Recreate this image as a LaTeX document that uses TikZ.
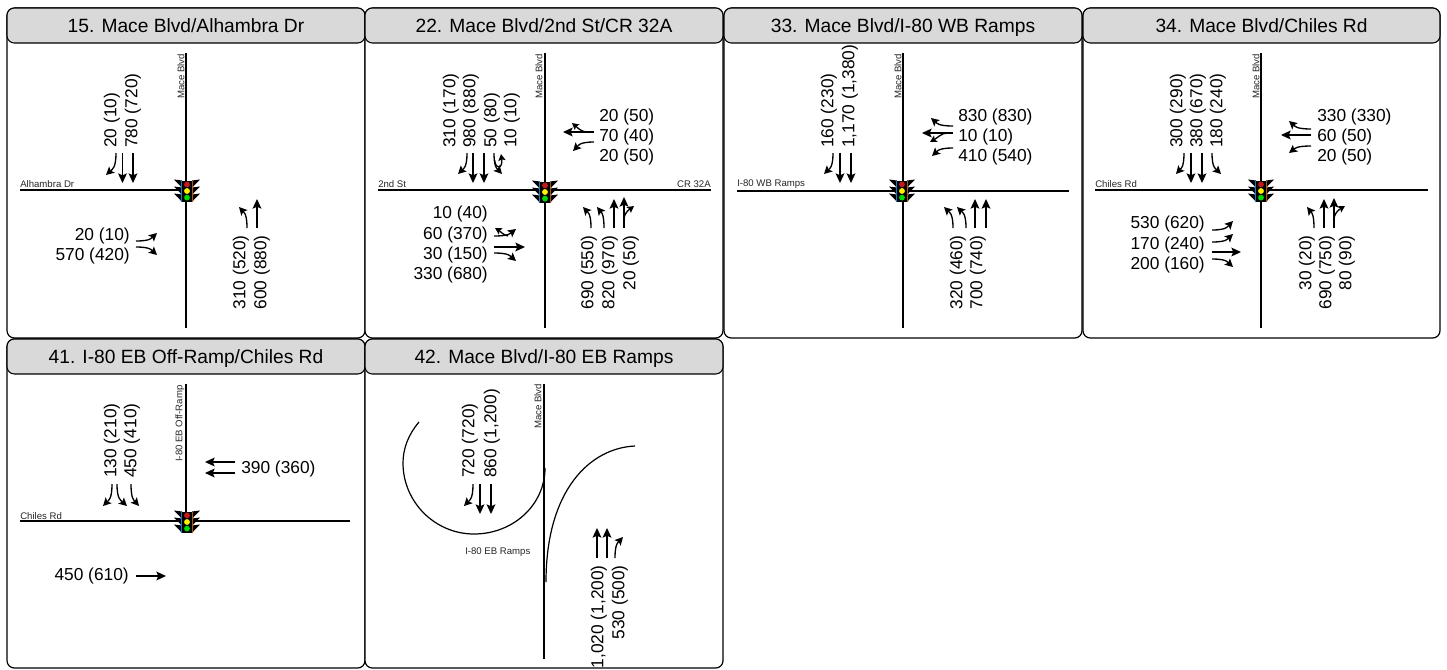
\documentclass[tikz,border=0pt]{standalone}
\usepackage{fontspec}
\setmainfont{Liberation Sans}
\usetikzlibrary{arrows.meta}
\newcounter{labn}
\tikzset{
  panelbox/.style={draw=black,line width=0.9pt,fill=white,rounded corners=5.5pt},
  headbox/.style={draw=black,line width=0.8pt,fill=black!15,rounded corners=5.5pt},
  headtext/.style={font=\fontsize{14.4}{16}\selectfont,inner sep=0pt,anchor=base},
  road/.style={line width=1.15pt,black},
  roadtext/.style={font=\fontsize{7.2}{8}\selectfont,inner sep=0pt,text=black!85},
  numtext/.style={font=\fontsize{13}{15}\selectfont,inner sep=0pt},
  flow/.style={line width=1pt,black,-{Stealth[length=7.2pt,width=6.6pt,inset=1.4pt]}},
  cflow/.style={line width=1pt,black,-{Stealth[length=6pt,width=6.2pt,inset=1.2pt]}},
  uflow/.style={line width=1pt,black,-{Stealth[length=5pt,width=5.4pt,inset=1pt]}},
}
\newcommand\nS[3]{\stepcounter{labn}\node[numtext,rotate=90,anchor=west] (n\thelabn) at (#1,#2) {#3};}
\newcommand\nN[3]{\stepcounter{labn}\node[numtext,rotate=90,anchor=east] (n\thelabn) at (#1,#2) {#3};}
\newcommand\nW[3]{\stepcounter{labn}\node[numtext,anchor=west] (n\thelabn) at (#1,#2) {#3};}
\newcommand\nE[3]{\stepcounter{labn}\node[numtext,anchor=east] (n\thelabn) at (#1,#2) {#3};}
\newcommand\rV[3]{\stepcounter{labn}\node[roadtext,rotate=90,anchor=west] (n\thelabn) at (#1,#2) {#3};}
\newcommand\rL[3]{\stepcounter{labn}\node[roadtext,anchor=west] (n\thelabn) at (#1,#2) {#3};}
\newcommand\rR[3]{\stepcounter{labn}\node[roadtext,anchor=east] (n\thelabn) at (#1,#2) {#3};}
\newcommand\str[4]{\draw[flow] (#1,#2) -- (#3,#4);}
\newcommand\cv[4]{\draw[cflow] (#1,#2) .. controls ({#1},{#2+0.7*(#4-#2)}) and ({#1+0.4*(#3-#1)},{#2+0.75*(#4-#2)}) .. (#3,#4);}
\newcommand\ch[4]{\draw[cflow] (#1,#2) .. controls ({#1+0.7*(#3-#1)},{#2}) and ({#1+0.75*(#3-#1)},{#2+0.4*(#4-#2)}) .. (#3,#4);}
\newcommand\panel[6]{%
  \draw[panelbox] (#1,#2) rectangle (#3,#4);
  \draw[headbox] (#1,#2) rectangle (#3,#5);
  \node[headtext] (title#6) at ({(#1+#3)/2},{#2+24}) {\csname ptitle#6\endcsname};
}
\newcommand\signal[2]{%
  \begin{scope}[shift={(#1,#2)}]
    \foreach \dy in {-7,0,7}{
      \fill[black] (-5,\dy-3.5) -- (-13,\dy-4.5) -- (-5,\dy+3.8) -- cycle;
      \fill[black] (5,\dy-3.5) -- (13,\dy-4.5) -- (5,\dy+3.8) -- cycle;
    }
    \fill[black] (-5.5,-10.5) rectangle (5.5,10.5);
    \draw[cyan!60!blue,line width=0.45pt] (-5.5,-10.5) -- (-5.5,10.5);
    \draw[orange!70!black,line width=0.45pt] (5.5,-10.5) -- (5.5,10.5);
    \fill[red!75!black!90!white] (0,-6.6) circle (2.9);
    \fill[yellow] (0,0) circle (2.9);
    \fill[green!85!black] (0,6.6) circle (2.9);
  \end{scope}
}
\newcommand\ptitleA{15. Mace Blvd/Alhambra Dr}
\newcommand\ptitleB{22. Mace Blvd/2nd St/CR 32A}
\newcommand\ptitleC{33. Mace Blvd/I-80 WB Ramps}
\newcommand\ptitleD{34. Mace Blvd/Chiles Rd}
\newcommand\ptitleE{41. I-80 EB Off-Ramp/Chiles Rd}
\newcommand\ptitleF{42. Mace Blvd/I-80 EB Ramps}
\begin{document}
\begin{tikzpicture}[x=0.75pt,y=-0.75pt]
\useasboundingbox (0,0) rectangle (1447,669);
\fill[white] (0,0) rectangle (1447,669);
\panel{7}{8}{365}{338}{43}{A}
\panel{365}{8}{723}{338}{43}{B}
\panel{724}{8}{1082}{338}{43}{C}
\panel{1083}{8}{1440}{338}{43}{D}
\panel{7}{339}{365}{668}{374}{E}
\panel{365}{339}{723}{668}{374}{F}

% ---- 15
\draw[road] (186,53) -- (186,328);
\draw[road] (20,190) -- (186,190);
\signal{187}{191}
\rV{181}{99}{Mace Blvd}
\rL{20}{184}{Alhambra Dr}
\nS{112}{148}{20 (10)}
\nS{133}{148}{780 (720)}
\nN{241}{235}{310 (520)}
\nN{262}{235}{600 (880)}
\nE{130}{236}{20 (10)}
\nE{130}{256}{570 (420)}
\cv{116}{153}{106}{175}
\str{122.5}{153}{122.5}{183}
\str{133}{153}{133}{183}
\cv{247}{228}{239}{207}
\str{257}{228}{257}{199}
\ch{136}{241}{157}{233}
\ch{136}{247}{157}{255}

% ---- 22
\draw[road] (545,53) -- (545,328);
\draw[road] (378,190) -- (711,190);
\signal{545}{192}
\rV{539}{99}{Mace Blvd}
\rL{378}{184}{2nd St}
\rR{711}{184}{CR 32A}
\nS{451}{148}{310 (170)}
\nS{471}{148}{980 (880)}
\nS{492}{148}{50 (80)}
\nS{512}{148}{10 (10)}
\nW{599}{117}{20 (50)}
\nW{599}{137}{70 (40)}
\nW{599}{157}{20 (50)}
\nN{589}{235}{690 (550)}
\nN{610}{235}{820 (970)}
\nN{631}{235}{20 (50)}
\nE{488}{214}{10 (40)}
\nE{488}{235}{60 (370)}
\nE{488}{255}{30 (150)}
\nE{488}{275}{330 (680)}
\cv{467}{153}{458}{174}
\str{473}{153}{473}{183}
\str{484}{153}{484}{183}
\cv{494}{153}{502}{174}
\draw[uflow] (494.5,160) .. controls (496,171) and (503,168) .. (501,154);
\str{594}{132}{563}{132}
\draw[uflow] (588,132) .. controls (581,132) and (578,128) .. (572,123);
\ch{594}{142}{573}{151}
\cv{591}{228}{583}{207}
\cv{604}{228}{597}{207}
\str{614}{228}{614}{199}
\str{624}{228}{624}{197}
\draw[uflow] (624,218) .. controls (625,212) and (630,209) .. (634,206);
\ch{494}{236}{516}{229}
\draw[uflow] (508,236) .. controls (503,235) and (500,231) .. (495,228);
\str{494}{247}{525}{247}
\ch{494}{253}{516}{261}

% ---- 33
\draw[road] (903,53) -- (903,328);
\draw[road] (737,191) -- (1069,191);
\signal{902}{191}
\rV{898}{99}{Mace Blvd}
\rL{737}{184}{I-80 WB Ramps}
\nS{829}{148}{160 (230)}
\nS{850}{148}{1,170 (1,380)}
\nW{958}{117}{830 (830)}
\nW{958}{137}{10 (10)}
\nW{958}{157}{410 (540)}
\nN{958}{235}{320 (460)}
\nN{978}{235}{700 (740)}
\cv{833}{153}{824}{174}
\str{840}{153}{840}{183}
\str{851}{153}{851}{183}
\ch{953}{126}{931}{118}
\str{953}{133}{922}{133}
\draw[uflow] (947,133) .. controls (942,133) and (937,138) .. (930,142);
\ch{953}{148}{932}{156}
\cv{953}{228}{944}{207}
\cv{966}{228}{957}{207}
\str{975}{228}{975}{199}
\str{986}{228}{986}{199}

% ---- 34
\draw[road] (1261,53) -- (1261,328);
\draw[road] (1095,190) -- (1428,190);
\signal{1261}{191}
\rV{1256}{99}{Mace Blvd}
\rL{1095}{184}{Chiles Rd}
\nS{1178}{148}{300 (290)}
\nS{1198}{148}{380 (670)}
\nS{1218}{148}{180 (240)}
\nW{1317}{117}{330 (330)}
\nW{1317}{137}{60 (50)}
\nW{1317}{157}{20 (50)}
\nN{1307}{235}{30 (20)}
\nN{1327}{235}{690 (750)}
\nN{1347}{235}{80 (90)}
\nE{1205}{224}{530 (620)}
\nE{1205}{245}{170 (240)}
\nE{1205}{265}{200 (160)}
\cv{1184}{153}{1176}{174}
\str{1191}{153}{1191}{183}
\str{1202}{153}{1202}{183}
\cv{1212}{153}{1221}{174}
\ch{1311}{129}{1289}{121}
\str{1311}{135}{1281}{135}
\ch{1311}{146}{1289}{153}
\cv{1314}{228}{1307}{207}
\str{1324}{228}{1324}{199}
\str{1334}{228}{1334}{198}
\draw[uflow] (1334,218) .. controls (1335,212) and (1340,209) .. (1345,206);
\ch{1212}{230}{1233}{221}
\ch{1212}{242}{1233}{234}
\str{1212}{252}{1241}{252}
\ch{1212}{259}{1233}{267}

% ---- 41
\draw[road] (186,384) -- (186,521);
\draw[road] (20,521) -- (350,521);
\signal{187}{522}
\rV{180}{462}{I-80 EB Off-Ramp}
\rL{20}{516}{Chiles Rd}
\nS{112}{478}{130 (210)}
\nS{132}{478}{450 (410)}
\nW{241}{469}{390 (360)}
\nE{129}{576}{450 (610)}
\cv{112}{484}{103}{506}
\cv{117}{484}{127}{506}
\cv{131}{484}{139}{506}
\str{235}{462}{205}{462}
\str{235}{473}{205}{473}
\str{136}{576}{166}{576}

% ---- 42
\draw[road] (544,384) -- (544,659);
\draw[line width=0.9pt] (419,422) .. controls (408,435) and (403,449) .. (403,463)
  .. controls (403,502) and (435,534) .. (474,534)
  .. controls (513,534) and (545,505) .. (545,468);
\draw[line width=0.9pt] (635,446) .. controls (590,448) and (546,490) .. (546,582);
\rV{538}{429}{Mace Blvd}
\rL{465}{552}{I-80 EB Ramps}
\nS{470}{478}{720 (720)}
\nS{492}{478}{860 (1,200)}
\nN{599}{565}{1,020 (1,200)}
\nN{620}{565}{530 (500)}
\cv{473}{484}{464}{506}
\str{480}{484}{480}{514}
\str{491}{484}{491}{514}
\str{597}{558}{597}{528}
\str{607}{558}{607}{528}
\cv{615}{558}{623}{537}
\end{tikzpicture}
\end{document}
